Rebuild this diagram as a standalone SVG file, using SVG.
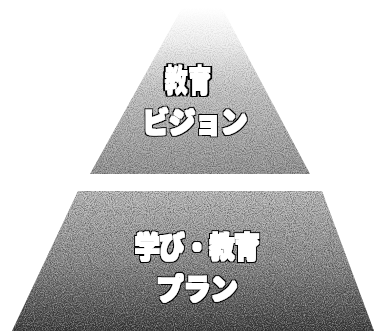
<svg xmlns="http://www.w3.org/2000/svg" width="379" height="331" viewBox="0 0 379 331">
<defs>
<linearGradient id="gTop" x1="0" y1="8" x2="0" y2="174" gradientUnits="userSpaceOnUse">
<stop offset="0" stop-color="#ffffff"/>
<stop offset="0.2" stop-color="#f2f2f2"/>
<stop offset="0.5" stop-color="#c8c8c8"/>
<stop offset="1" stop-color="#959595"/>
</linearGradient>
<linearGradient id="gBot" x1="0" y1="191" x2="0" y2="331" gradientUnits="userSpaceOnUse">
<stop offset="0" stop-color="#bdbdbd"/>
<stop offset="0.5" stop-color="#8a8a8a"/>
<stop offset="1" stop-color="#3a3a3a"/>
</linearGradient>
<linearGradient id="fadeTop" x1="0" y1="8" x2="0" y2="174" gradientUnits="userSpaceOnUse">
<stop offset="0" stop-color="#000"/>
<stop offset="0.15" stop-color="#333"/>
<stop offset="0.5" stop-color="#bbb"/>
<stop offset="1" stop-color="#fff"/>
</linearGradient>
<mask id="mTop" maskUnits="userSpaceOnUse" x="0" y="0" width="379" height="200">
<rect x="0" y="0" width="379" height="200" fill="url(#fadeTop)"/>
</mask>
<filter id="grain" x="0" y="0" width="1" height="1">
<feTurbulence type="fractalNoise" baseFrequency="0.95" numOctaves="2" seed="3" result="n"/>
<feColorMatrix in="n" type="matrix" values="0 0 0 0 0  0 0 0 0 0  0 0 0 0 0  0 0 0 1.6 -0.6" result="a"/>
<feComposite in="a" in2="SourceAlpha" operator="in"/>
</filter>
<filter id="grainW" x="0" y="0" width="1" height="1">
<feTurbulence type="fractalNoise" baseFrequency="0.9" numOctaves="2" seed="8" result="n"/>
<feColorMatrix in="n" type="matrix" values="0 0 0 0 1  0 0 0 0 1  0 0 0 0 1  0 0 0 1.6 -0.65" result="a"/>
<feComposite in="a" in2="SourceAlpha" operator="in"/>
</filter>
<filter id="bold" x="-0.2" y="-0.3" width="1.4" height="1.6">
<feMorphology in="SourceAlpha" operator="dilate" radius="0.6" result="b"/>
<feMorphology in="SourceAlpha" operator="dilate" radius="2.4" result="o"/>
<feFlood flood-color="#ffffff" result="fw"/>
<feComposite in="fw" in2="b" operator="in" result="w"/>
<feFlood flood-color="#000000" result="fk"/>
<feComposite in="fk" in2="o" operator="in" result="k"/>
<feMerge><feMergeNode in="k"/><feMergeNode in="w"/></feMerge>
</filter>
</defs>
<style>
.lbl{font-family:"Noto Sans CJK JP","Noto Sans CJK SC",sans-serif;font-weight:900;fill:#ffffff;text-anchor:middle;filter:url(#bold)}
</style>
<g id="node-vision">
<polygon points="182,8 222,8 310,174 90,174" fill="url(#gTop)"/>
<g mask="url(#mTop)">
<polygon points="182,8 222,8 310,174 90,174" fill="#000" filter="url(#grain)" opacity="0.55"/>
<polygon points="182,8 222,8 310,174 90,174" fill="#000" filter="url(#grainW)" opacity="0.5"/>
</g>
<text class="lbl" font-size="30" transform="translate(188,91) scale(0.78,1)" x="0" y="0">教育</text>
<text class="lbl" font-size="29" transform="translate(195,133) scale(0.9,1)" x="0" y="0">ビジョン</text>
</g>
<g id="node-plan">
<polygon points="78,191 322,191 374,331 12,331" fill="url(#gBot)"/>
<polygon points="78,191 322,191 374,331 12,331" fill="#000" filter="url(#grain)" opacity="0.6"/>
<polygon points="78,191 322,191 374,331 12,331" fill="#000" filter="url(#grainW)" opacity="0.6"/>
<text class="lbl" font-size="29" transform="translate(197,258) scale(0.86,1)" x="0" y="0">学び・教育</text>
<text class="lbl" font-size="29" transform="translate(197,300) scale(0.93,1)" x="0" y="0">プラン</text>
</g>
<g id="connectors"/>
</svg>
